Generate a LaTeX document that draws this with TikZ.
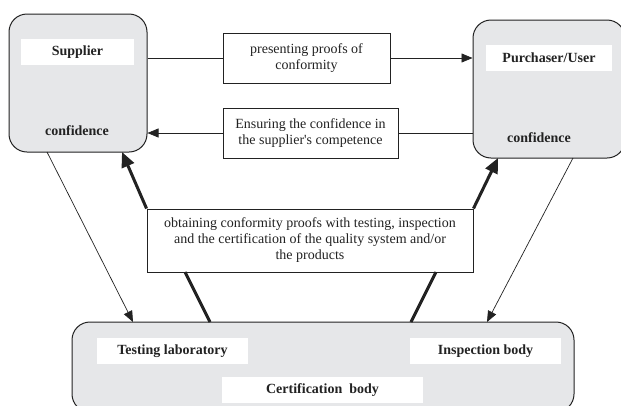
\documentclass[tikz,border=0pt]{standalone}
\usepackage{fontspec}
\setmainfont{Liberation Serif}
\usetikzlibrary{arrows.meta}
\definecolor{boxgray}{HTML}{E6E7E9}
\definecolor{ink}{HTML}{222222}
\tikzset{
  bigbox/.style={draw=ink, line width=1pt, fill=boxgray, rounded corners=18pt},
  lbl/.style={fill=white, font=\fontsize{14}{16}\selectfont\bfseries, text=ink, inner sep=0pt, anchor=center},
  txt/.style={font=\fontsize{14}{16}\selectfont\bfseries, text=ink, inner sep=0pt},
  msgbox/.style={draw=ink, line width=0.9pt, fill=white, font=\fontsize{14}{16}\selectfont, text=ink, align=center, inner sep=0pt},
  thin/.style={draw=ink, line width=0.7pt},
  thinarrow/.style={draw=ink, line width=0.7pt, -{Triangle[length=11pt,width=9pt]}},
  thick/.style={draw=ink, line width=3pt},
  thickarrow/.style={draw=ink, line width=3pt, -{Triangle[length=15pt,width=13pt]}}
}
\begin{document}
\begin{tikzpicture}[x=1pt,y=-1pt]
\clip (0,0) rectangle (621,405);
\fill[white] (0,0) rectangle (621,405);
% big boxes
\node[bigbox, minimum width=138pt, minimum height=138pt] (supplier) at (78,83) {};
\node[bigbox, minimum width=152pt, minimum height=138pt] (purchaser) at (549,89) {};
\node[bigbox, minimum width=502pt, minimum height=90pt] (bottom) at (323,367) {};
% labels inside
\node[lbl, minimum width=113pt, minimum height=26pt] (suplbl) at (77.5,52) {Supplier};
\node[txt] (supconf) at (77,131) {confidence};
\node[lbl, minimum width=126pt, minimum height=26pt] (purlbl) at (549,58) {Purchaser/User};
\node[txt] (purconf) at (539,138) {confidence};
\node[lbl, minimum width=151pt, minimum height=26pt] (testlbl) at (172.5,351) {Testing laboratory};
\node[lbl, minimum width=151pt, minimum height=26pt] (insplbl) at (485.5,351) {Inspection body};
\node[lbl, minimum width=201pt, minimum height=26pt] (certlbl) at (322.5,390) {Certification\ \ body};
% message boxes
\node[msgbox, minimum width=167pt, minimum height=50pt] (box1) at (306.5,58) {presenting proofs of\\conformity};
\node[msgbox, minimum width=175pt, minimum height=50pt] (box2) at (310.5,133) {Ensuring the confidence in\\the supplier\textquotesingle s competence};
\node[msgbox, minimum width=326pt, minimum height=63pt] (mid) at (310,240.5) {obtaining conformity proofs with testing, inspection\\and the certification of the quality system and/or\\the products};
% coordinates
\coordinate (sthick) at (122,152);
\coordinate (pthick) at (498,158);
\coordinate (bl1) at (185,272);
\coordinate (bl2) at (210,322);
\coordinate (br1) at (436,272);
\coordinate (br2) at (411,322);
\coordinate (sthin) at (47,152);
\coordinate (tthin) at (133,322);
\coordinate (pthin) at (573,158);
\coordinate (ithin) at (487,322);
% connectors
\draw[thin] (supplier.east |- box1.west) -- (box1.west);
\draw[thinarrow] (box1.east) -- (purchaser.west |- box1.east);
\draw[thin] (purchaser.west |- box2.east) -- (box2.east);
\draw[thinarrow] (box2.west) -- (supplier.east |- box2.west);
\draw[thickarrow] (mid.north west) -- (sthick);
\draw[thickarrow] (mid.north east) -- (pthick);
\draw[thick] (bl1) -- (bl2);
\draw[thick] (br1) -- (br2);
\draw[thinarrow] (sthin) -- (tthin);
\draw[thinarrow] (pthin) -- (ithin);
\end{tikzpicture}
\end{document}
